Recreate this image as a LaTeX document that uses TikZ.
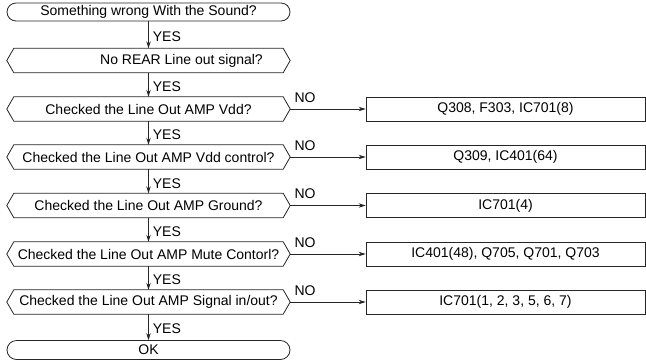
\documentclass[tikz,border=0pt]{standalone}
\usepackage{fontspec}
\setmainfont{Liberation Sans}
\usetikzlibrary{shapes.misc,arrows.meta}
\newcommand\hexdraw[1]{\draw[ln] (#1.west) -- ([xshift=7pt]#1.north west) -- ([xshift=-7pt]#1.north east) -- (#1.east) -- ([xshift=-7pt]#1.south east) -- ([xshift=7pt]#1.south west) -- cycle;}
\begin{document}
\begin{tikzpicture}[x=1pt,y=-1pt,
  font=\fontsize{14}{16}\selectfont,
  ln/.style={draw=black!85, line width=0.8pt},
  term/.style={rounded rectangle, ln, minimum width=283pt, minimum height=18pt, inner sep=0pt},
  hexn/.style={minimum width=283pt, minimum height=24pt, inner sep=0pt},
  res/.style={ln, minimum width=279pt, minimum height=24pt, inner sep=0pt},
  flow/.style={ln, -{Stealth[length=7pt,width=4.5pt]}},
  yes/.style={anchor=west, inner sep=0pt, xshift=4pt, yshift=-2pt},
  no/.style={pos=0, anchor=south west, inner sep=0pt, xshift=4pt, yshift=6pt}]
\useasboundingbox (0,0) rectangle (646,360);
% main column
\node[term] (t0) at (148.5,12) {Something wrong With the Sound?};
\node[hexn] (h1) at (148.5,60.5) {};
\node[anchor=east, inner sep=0pt] (h1t) at (263,60.5) {No REAR Line out signal?};
\node[hexn] (h2) at (148.5,109) {Checked the Line Out AMP Vdd?};
\node[hexn] (h3) at (148.5,157) {Checked the Line Out AMP Vdd control?};
\node[hexn] (h4) at (148.5,205.5) {Checked the Line Out AMP Ground?};
\node[hexn] (h5) at (148.5,254) {Checked the Line Out AMP Mute Contorl?};
\node[hexn] (h6) at (148.5,302) {Checked the Line Out AMP Signal in/out?};
\node[term, minimum height=19pt] (t7) at (148.5,350) {OK};
\foreach \n in {h1,h2,h3,h4,h5,h6}{\hexdraw{\n}}
% result boxes
\node[res] (r2) at (505.5,109) {Q308, F303, IC701(8)};
\node[res] (r3) at (505.5,157) {Q309, IC401(64)};
\node[res] (r4) at (505.5,205.5) {IC701(4)};
\node[res] (r5) at (505.5,254) {IC401(48), Q705, Q701, Q703};
\node[res] (r6) at (505.5,302) {IC701(1, 2, 3, 5, 6, 7)};
% YES arrows
\draw[flow] (t0.south) -- node[yes] (y1) {YES} (h1.north);
\draw[flow] (h1.south) -- node[yes] (y2) {YES} (h2.north);
\draw[flow] (h2.south) -- node[yes] (y3) {YES} (h3.north);
\draw[flow] (h3.south) -- node[yes] (y4) {YES} (h4.north);
\draw[flow] (h4.south) -- node[yes] (y5) {YES} (h5.north);
\draw[flow] (h5.south) -- node[yes] (y6) {YES} (h6.north);
\draw[flow] (h6.south) -- node[yes] (y7) {YES} (t7.north);
% NO arrows
\draw[flow] (h2.east) -- node[no] (n2) {NO} (r2.west);
\draw[flow] (h3.east) -- node[no] (n3) {NO} (r3.west);
\draw[flow] (h4.east) -- node[no] (n4) {NO} (r4.west);
\draw[flow] (h5.east) -- node[no] (n5) {NO} (r5.west);
\draw[flow] (h6.east) -- node[no] (n6) {NO} (r6.west);
\end{tikzpicture}
\end{document}
